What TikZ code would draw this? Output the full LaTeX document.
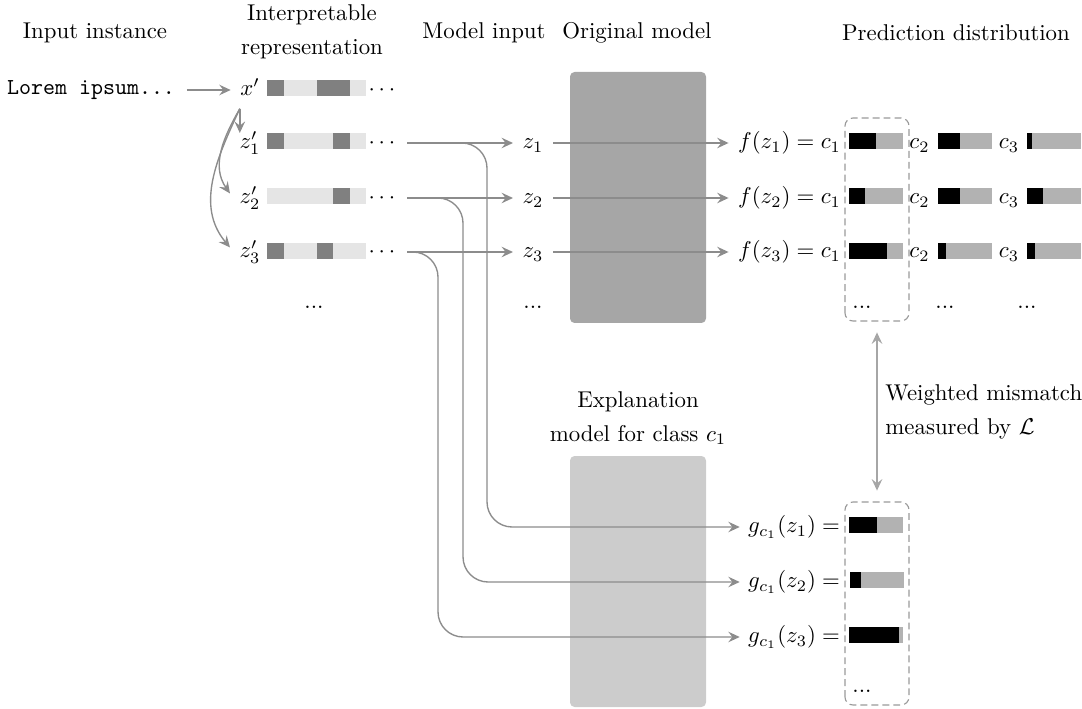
\documentclass[tikz,border=0pt]{standalone}
\usetikzlibrary{arrows.meta}
\definecolor{conncol}{gray}{0.55}
\definecolor{cdark}{gray}{0.5}
\definecolor{clight}{gray}{0.9}
\definecolor{cpgray}{gray}{0.7}
\definecolor{corig}{gray}{0.65}
\definecolor{cexpl}{gray}{0.8}
\definecolor{cbox}{gray}{0.6}
\definecolor{cdouble}{gray}{0.65}
\newcommand{\myibar}[2]{\fill[clight] (267,#1-8) rectangle (366,#1+8);
  \foreach \k in {#2}{\fill[cdark] ({267+16.5*\k},#1-8) rectangle ({283.5+16.5*\k},#1+8);}}
\newcommand{\mypbar}[3]{\fill[cpgray] (#1,#2-8) rectangle (#1+54,#2+8);
  \fill[black] (#1,#2-8) rectangle (#3,#2+8);}
\begin{document}
\begin{tikzpicture}[x=0.438pt,y=0.438pt,
  lbl/.style={inner sep=2pt},
  conn/.style={draw=conncol, line width=0.6pt, -{Stealth[length=5pt,width=4.6pt,inset=1.8pt]}},
  title/.style={align=center, inner sep=0pt},
  dotsn/.style={anchor=base, inner sep=0pt},
  dbox/.style={draw=cbox, dash pattern=on 3pt off 1.8pt, line width=0.5pt, rounded corners=3.5pt},
  dbl/.style={draw=cdouble, line width=0.8pt, {Stealth[length=5pt,width=4.6pt,inset=1.8pt]}-{Stealth[length=5pt,width=4.6pt,inset=1.8pt]}, shorten <=5pt, shorten >=5pt}
]
\useasboundingbox (0,0) rectangle (1082,708);

% model boxes
\fill[corig, rounded corners=2pt] (570,385) rectangle (706,636);
\fill[cexpl, rounded corners=2pt] (570,1) rectangle (706,252);

% titles
\node[title] (tInput) at (95,675) {Input instance};
\node[title] (tInterp) at (312,676) {Interpretable\\[3pt]representation};
\node[title] (tModel) at (484,675) {Model input};
\node[title] (tOrig) at (637,675) {Original model};
\node[title] (tPred) at (956,675) {Prediction distribution};
\node[title] (tExpl) at (638,290) {Explanation\\[3pt]model for class $c_1$};
\node[anchor=west, align=left, inner sep=0pt] (tWM) at (885,296) {Weighted mismatch\\[3pt]measured by $\mathcal{L}$};

% input
\node[lbl, anchor=east] (lorem) at (180,618) {\texttt{Lorem ipsum...}};
\node[lbl] (xp) at (250,618) {$\vphantom{(}x'$};
\node[lbl] (z1p) at (250,565) {$\vphantom{(}z'_1$};
\node[lbl] (z2p) at (250,510) {$\vphantom{(}z'_2$};
\node[lbl] (z3p) at (250,456) {$\vphantom{(}z'_3$};
\coordinate (xs) at ([xshift=2pt,yshift=-1pt]xp.south west);
\coordinate (z1t) at ([yshift=4.4pt]z1p.west);

% interpretable bars
\myibar{620}{0,3,4}
\myibar{567}{0,4}
\myibar{512}{4}
\myibar{457}{0,3}
\node[lbl] (d0) at (380,618) {$\vphantom{(}\cdots$};
\node[lbl] (d1) at (380,565) {$\vphantom{(}\cdots$};
\node[lbl] (d2) at (380,510) {$\vphantom{(}\cdots$};
\node[lbl] (d3) at (380,456) {$\vphantom{(}\cdots$};
\node[dotsn] (dl) at (314,399) {...};

% model input
\node[lbl] (z1) at (533,565) {$\vphantom{(}z_1$};
\node[lbl] (z2) at (533,510) {$\vphantom{(}z_2$};
\node[lbl] (z3) at (533,456) {$\vphantom{(}z_3$};
\node[dotsn] (dm) at (533,399) {...};

% predictions
\node[lbl, anchor=east] (f1) at (846,565) {$f(z_1) = c_1$};
\node[lbl, anchor=east] (f2) at (846,510) {$f(z_2) = c_1$};
\node[lbl, anchor=east] (f3) at (846,456) {$f(z_3) = c_1$};
\node[lbl] (c21) at (919.5,565) {$\vphantom{(}c_2$};
\node[lbl] (c22) at (919.5,510) {$\vphantom{(}c_2$};
\node[lbl] (c23) at (919.5,456) {$\vphantom{(}c_2$};
\node[lbl] (c31) at (1009,565) {$\vphantom{(}c_3$};
\node[lbl] (c32) at (1009,510) {$\vphantom{(}c_3$};
\node[lbl] (c33) at (1009,456) {$\vphantom{(}c_3$};
\mypbar{849}{567}{876}
\mypbar{938}{567}{960}
\mypbar{1027}{567}{1032}
\mypbar{849}{512}{865}
\mypbar{938}{512}{960}
\mypbar{1027}{512}{1043}
\mypbar{849}{457}{887}
\mypbar{938}{457}{946}
\mypbar{1027}{457}{1035}
\node[dotsn] (dp1) at (862,399) {...};
\node[dotsn] (dp2) at (945,399) {...};
\node[dotsn] (dp3) at (1027,399) {...};
\draw[dbox] (845,387) rectangle (909,590);

% explanation outputs
\node[lbl, anchor=east] (g1) at (845,181) {$g_{c_1}(z_1) =$};
\node[lbl, anchor=east] (g2) at (845,126) {$g_{c_1}(z_2) =$};
\node[lbl, anchor=east] (g3) at (845,71) {$g_{c_1}(z_3) =$};
\mypbar{849}{183}{877}
\mypbar{850}{128}{861}
\mypbar{849}{73}{899}
\node[dotsn] (dg) at (862,16) {...};
\draw[dbox] (845,3) rectangle (909,206);

% connectors
\draw[conn, shorten <=3pt, shorten >=2pt] (lorem) -- (xp);
\draw[conn] (xs) -- (xs |- z1t);
\draw[conn] (xs) to[out=240,in=125] ([xshift=-2pt,yshift=2pt]z2p.west);
\draw[conn] (xs) to[out=245,in=130] ([xshift=-2pt,yshift=2pt]z3p.west);

\draw[conn, shorten <=3pt, shorten >=2pt] (d1) -- (z1);
\draw[conn, shorten <=3pt, shorten >=2pt] (d2) -- (z2);
\draw[conn, shorten <=3pt, shorten >=2pt] (d3) -- (z3);
\draw[conn, shorten <=2pt, shorten >=2pt] (z1) -- (f1);
\draw[conn, shorten <=2pt, shorten >=2pt] (z2) -- (f2);
\draw[conn, shorten <=2pt, shorten >=2pt] (z3) -- (f3);

\coordinate (v1) at (487,181);
\coordinate (v2) at (463,126);
\coordinate (v3) at (438,71);
\draw[conn, rounded corners=11pt, shorten <=3pt, shorten >=1.5pt] (d1.east) -| (v1) -- (g1.west);
\draw[conn, rounded corners=11pt, shorten <=3pt, shorten >=1.5pt] (d2.east) -| (v2) -- (g2.west);
\draw[conn, rounded corners=11pt, shorten <=3pt, shorten >=1.5pt] (d3.east) -| (v3) -- (g3.west);

\coordinate (pb) at (877,387);
\coordinate (gt) at (877,206);
\draw[dbl] (pb) -- (gt);
\end{tikzpicture}
\end{document}
